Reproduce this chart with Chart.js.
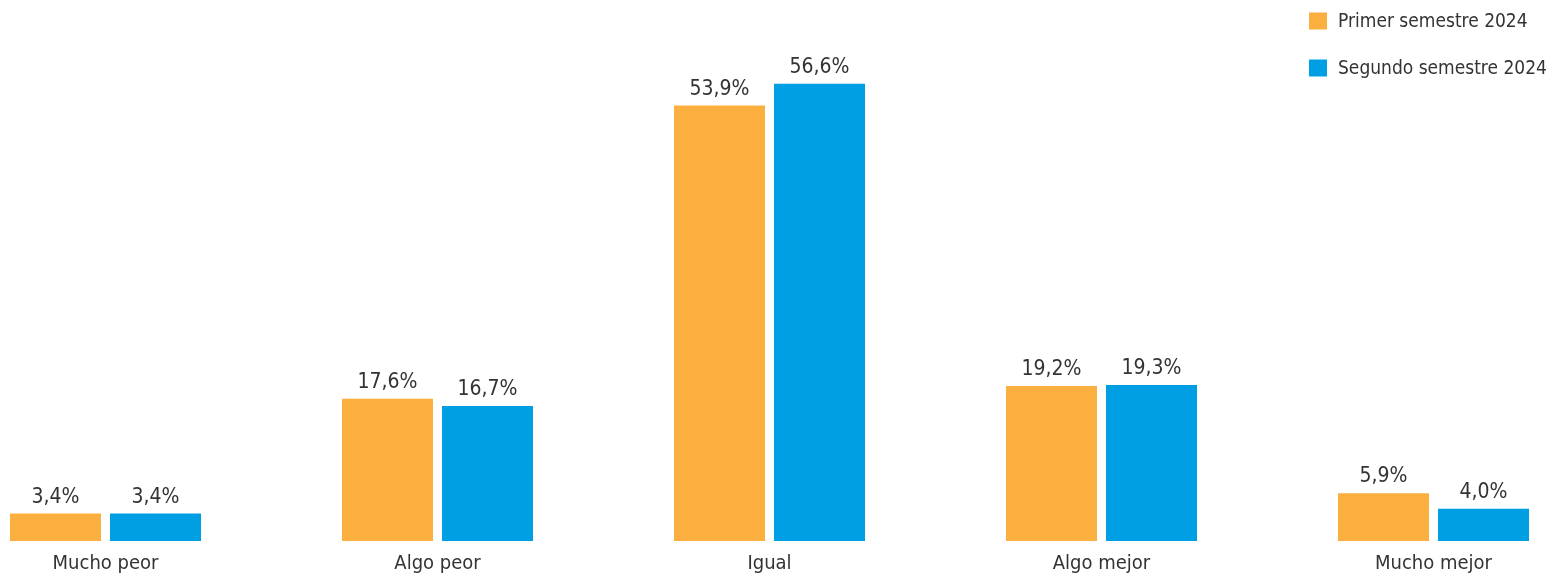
<!DOCTYPE html>
<html>
<head>
<meta charset="utf-8">
<script src="https://cdn.jsdelivr.net/npm/chart.js@4"></script>
<style>
  html, body { margin: 0; padding: 0; background: #fff; overflow: hidden; }
  #wrap { width: 1550px; height: 573px; position: relative; overflow: hidden; }
  #inner { width: 1550px; height: 587px; position: absolute; left: 0; top: 0; }
</style>
</head>
<body>
<div id="wrap"><div id="inner"><canvas id="chart"></canvas></div></div>
<script>
/* =================================================
  Data
==================================================== */

const categories = ["Mucho peor", "Algo peor", "Igual", "Algo mejor", "Mucho mejor"];
const seriesNames = ["Primer semestre 2024", "Segundo semestre 2024"];
const primerValues = [3.4, 17.6, 53.9, 19.2, 5.9];
const segundoValues = [3.4, 16.7, 56.6, 19.3, 4.0];
const seriesColors = ['#FBAF3F', '#009FE3'];

const textColor = '#333333';
const fontFamily = "'Liberation Sans Narrow', 'DejaVu Sans Condensed', 'Roboto', sans-serif";

const fmt = v => v.toFixed(1).replace('.', ',') + '%';

/* =================================================
  Plugins: value labels and legend
==================================================== */

const valueLabels = {
  id: 'valueLabels',
  afterDatasetsDraw(chart) {
    const ctx = chart.ctx;
    ctx.save();
    ctx.font = '21px ' + fontFamily;
    ctx.fillStyle = textColor;
    ctx.textAlign = 'center';
    ctx.textBaseline = 'alphabetic';
    chart.data.datasets.forEach((ds, i) => {
      chart.getDatasetMeta(i).data.forEach((bar, j) => {
        ctx.fillText(fmt(ds.data[j]), bar.x, bar.y - 11);
      });
    });
    ctx.restore();
  }
};

const sideLegend = {
  id: 'sideLegend',
  afterDraw(chart) {
    const ctx = chart.ctx;
    ctx.save();
    ctx.font = '19px ' + fontFamily;
    ctx.textBaseline = 'middle';
    chart.data.datasets.forEach((ds, i) => {
      const y = 21 + i * 47;
      ctx.fillStyle = ds.backgroundColor;
      ctx.fillRect(1309, y - 8.5, 18, 17);
      ctx.fillStyle = textColor;
      ctx.fillText(ds.label, 1338, y + 1);
    });
    ctx.restore();
  }
};

/* =================================================
  Chart
==================================================== */

const chartData = {
  labels: categories,
  datasets: [primerValues, segundoValues].map((vals, i) => ({
    label: seriesNames[i],
    data: vals,
    backgroundColor: seriesColors[i],
    borderWidth: 0,
    categoryPercentage: 200 / 332,
    barPercentage: 0.91,
    clip: false
  }))
};

const chartOptions = {
  responsive: true,
  maintainAspectRatio: false,
  animation: false,
  layout: {
    padding: { top: 24, left: 105.5, right: 116.5, bottom: 0 }
  },
  scales: {
    x: {
      offset: false,
      grid: { display: false, drawTicks: false },
      border: { display: false },
      ticks: {
        color: textColor,
        padding: 11,
        maxRotation: 0,
        autoSkip: false,
        font: { family: fontFamily, size: 20 }
      }
    },
    y: {
      display: false,
      min: 0,
      max: 64
    }
  },
  plugins: {
    legend: { display: false },
    tooltip: { enabled: false }
  }
};

new Chart(document.getElementById('chart'), {
  type: 'bar',
  data: chartData,
  options: chartOptions,
  plugins: [valueLabels, sideLegend]
});
</script>
</body>
</html>
